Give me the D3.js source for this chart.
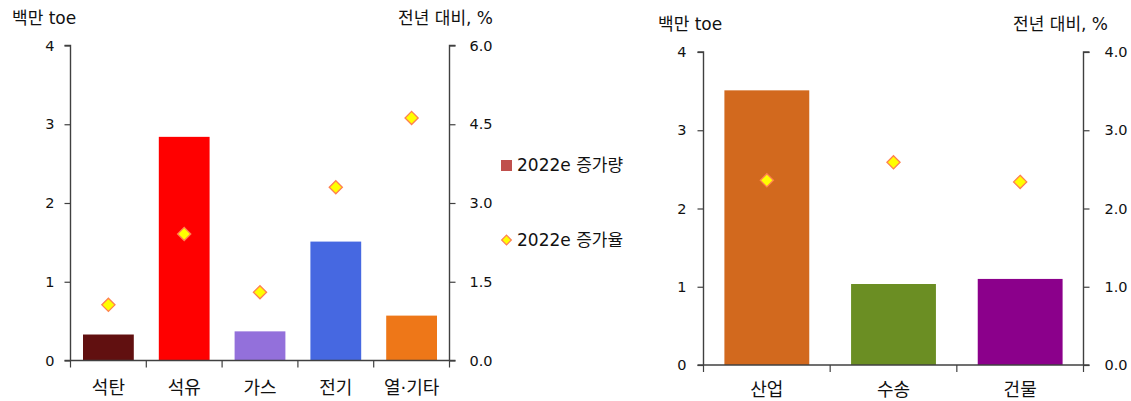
<!DOCTYPE html>
<html>
<head>
<meta charset="utf-8">
<script src="https://cdn.jsdelivr.net/npm/d3@7"></script>
<style>
  html, body { margin: 0; padding: 0; background: #fff; }
  svg { display: block; }
  text { font-family: "DejaVu Sans", "Noto Sans CJK KR", sans-serif; fill: #111; }
</style>
</head>
<body>
<svg id="chart" width="1131" height="401"></svg>
<script>
// Energy source breakdown (left panel)
const sourceCategories = ["석탄", "석유", "가스", "전기", "열·기타"];
const sourceIncrease = [0.33, 2.84, 0.37, 1.51, 0.57];      // 백만 toe
const sourceGrowth = [1.06, 2.41, 1.30, 3.30, 4.62];        // 전년 대비, %
const sourceColors = ["#611010", "#FF0000", "#9370DB", "#4668E1", "#EE7718"];
const sourceLeftTicks = [0, 1, 2, 3, 4];
const sourceRightTicks = [0, 1.5, 3.0, 4.5, 6.0];

// Sector breakdown (right panel)
const sectorCategories = ["산업", "수송", "건물"];
const sectorIncrease = [3.51, 1.035, 1.10];
const sectorGrowth = [2.36, 2.59, 2.34];
const sectorColors = ["#D2691E", "#6B8E23", "#8B008B"];
const sectorLeftTicks = [0, 1, 2, 3, 4];
const sectorRightTicks = [0, 1.0, 2.0, 3.0, 4.0];

const legendLabels = ["2022e 증가량", "2022e 증가율"];

const svg = d3.select("#chart");
const axisColor = "#404040";
const diamond = d3.symbol().type(d3.symbolDiamond2).size(110);
const diamondFill = "#FFFF00", diamondStroke = "#FF7F50";

function panel(cfg) {
  const g = svg.append("g");
  const x = d3.scaleBand().domain(cfg.categories)
    .range([cfg.x0, cfg.x1]).paddingInner(0.33).paddingOuter(0.165);
  const yL = d3.scaleLinear().domain([0, cfg.leftMax]).range([cfg.y0, cfg.y1]);
  const yR = d3.scaleLinear().domain([0, cfg.rightMax]).range([cfg.y0, cfg.y1]);

  // bars
  g.selectAll("rect.bar").data(cfg.values).join("rect")
    .attr("class", "bar")
    .attr("x", (d, i) => x(cfg.categories[i]))
    .attr("width", x.bandwidth())
    .attr("y", d => yL(d))
    .attr("height", d => yL(0) - yL(d))
    .attr("fill", (d, i) => cfg.colors[i]);

  // left axis
  const la = g.append("g").attr("transform", `translate(${cfg.x0},0)`)
    .call(d3.axisLeft(yL).tickValues(cfg.leftTicks).tickSize(6).tickPadding(cfg.leftPad).tickFormat(d3.format("d")));
  // right axis
  const ra = g.append("g").attr("transform", `translate(${cfg.x1},0)`)
    .call(d3.axisRight(yR).tickValues(cfg.rightTicks).tickSize(6).tickPadding(cfg.rightPad).tickFormat(d3.format(".1f")));
  [la, ra].forEach(a => {
    a.select(".domain").attr("stroke", axisColor).attr("stroke-width", 1.4);
    a.selectAll(".tick line").attr("stroke", axisColor).attr("stroke-width", 1.2);
    a.selectAll(".tick text").style("font-size", "14.5px").style("font-family", "DejaVu Sans").attr("fill", "#111");
  });
  ra.select(".domain").attr("d", `M6,${cfg.y1}H0V${cfg.y0}`);
  la.select(".domain").attr("d", `M-6,${cfg.y1}H0V${cfg.y0}`);

  // baseline with category separators
  g.append("line").attr("x1", cfg.x0 - 6).attr("x2", cfg.x1 + 6)
    .attr("y1", yL(0)).attr("y2", yL(0)).attr("stroke", axisColor).attr("stroke-width", 1.6);
  const step = x.step();
  d3.range(cfg.categories.length + 1).forEach(i => {
    const bx = cfg.x0 + i * step;
    g.append("line").attr("x1", bx).attr("x2", bx)
      .attr("y1", yL(0)).attr("y2", yL(0) + 7).attr("stroke", axisColor).attr("stroke-width", 1.2);
  });
  g.selectAll("text.cat").data(cfg.categories).join("text")
    .attr("class", "cat")
    .attr("x", d => x(d) + x.bandwidth() / 2)
    .attr("y", cfg.catY)
    .attr("text-anchor", "middle")
    .style("font-size", "18px")
    .text(d => d);

  // growth markers
  g.selectAll("path.pt").data(cfg.growth).join("path")
    .attr("class", "pt")
    .attr("d", diamond)
    .attr("transform", (d, i) => `translate(${x(cfg.categories[i]) + x.bandwidth() / 2},${yR(d)})`)
    .attr("fill", diamondFill).attr("stroke", diamondStroke).attr("stroke-width", 1.3);

  // unit labels
  g.append("text").attr("x", cfg.leftTitleX).attr("y", cfg.y1 - 22)
    .style("font-size", "17px").text("백만 toe");
  g.append("text").attr("x", cfg.rightTitleX).attr("y", cfg.y1 - 22)
    .attr("text-anchor", "end").style("font-size", "17px").text("전년 대비, %");
}

panel({
  categories: sourceCategories, values: sourceIncrease, growth: sourceGrowth, colors: sourceColors,
  leftTicks: sourceLeftTicks, rightTicks: sourceRightTicks, leftMax: 4, rightMax: 6,
  x0: 70.5, x1: 449.5, y0: 360.5, y1: 45.5, leftPad: 10, rightPad: 14,
  leftTitleX: 12, rightTitleX: 493, catY: 394
});
panel({
  categories: sectorCategories, values: sectorIncrease, growth: sectorGrowth, colors: sectorColors,
  leftTicks: sectorLeftTicks, rightTicks: sectorRightTicks, leftMax: 4, rightMax: 4,
  x0: 703.5, x1: 1083.5, y0: 365, y1: 52, leftPad: 11, rightPad: 15,
  leftTitleX: 658, rightTitleX: 1108, catY: 396
});

// legend for the left panel
const lg = svg.append("g");
lg.append("rect").attr("x", 501).attr("y", 160).attr("width", 11).attr("height", 11).attr("fill", "#C0504D");
lg.append("text").attr("x", 517).attr("y", 171).style("font-size", "17px").text(legendLabels[0]);
lg.append("path").attr("d", d3.symbol().type(d3.symbolDiamond2).size(60))
  .attr("transform", "translate(506.5,240)")
  .attr("fill", diamondFill).attr("stroke", diamondStroke).attr("stroke-width", 1.2);
lg.append("text").attr("x", 517).attr("y", 246).style("font-size", "17px").text(legendLabels[1]);
</script>
</body>
</html>
